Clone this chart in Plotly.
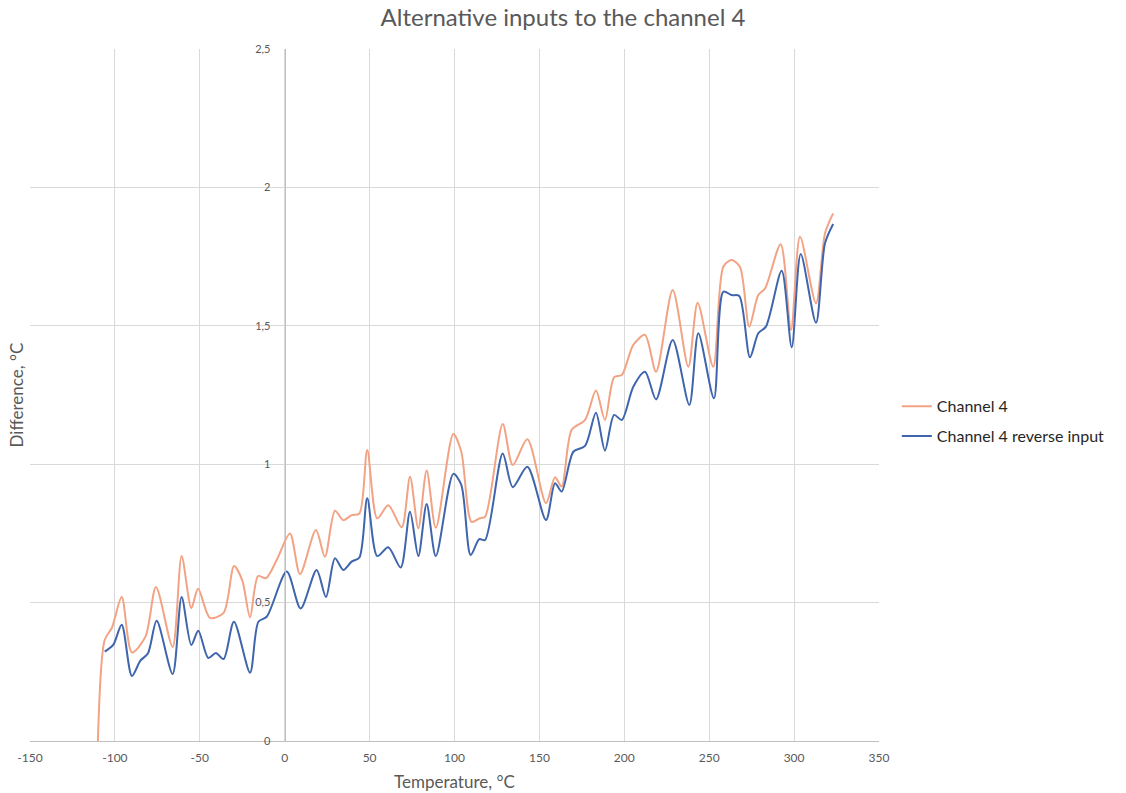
import plotly.graph_objects as go

# Channel 4 (orange)
ch4_x = [-110, -106, -101.7, -96, -90, -82, -75.8, -66, -60.7, -55, -51, -44, -36, -29.8, -25, -20.4,
         -15.7, -11, -4.7, 3.1, 9, 18.4, 23.7, 29.6, 34.5, 39.4, 44, 48.6, 54.5, 61, 68.9, 73.8, 78.7,
         83.6, 89, 99.3, 104, 110, 114.6, 118, 128.4, 134.3, 142.9, 153.9, 159.2, 163.1, 169, 176.9,
         183.3, 188.6, 194, 198.5, 205.3, 212.2, 218.7, 228.5, 237.7, 243.2, 252.4, 258.3, 263.2,
         268.1, 273.6, 278.9, 282.9, 292.1, 298.2, 303.5, 312.9, 318.2, 323]
ch4_y = [0.0, 0.365, 0.41, 0.52, 0.32, 0.377, 0.556, 0.34, 0.668, 0.48, 0.55, 0.445, 0.463, 0.632, 0.58,
         0.447, 0.596, 0.588, 0.654, 0.75, 0.603, 0.762, 0.666, 0.832, 0.798, 0.816, 0.822, 1.051, 0.804,
         0.852, 0.772, 0.955, 0.768, 0.977, 0.77, 1.109, 1.045, 0.792, 0.804, 0.81, 1.145, 0.997, 1.09,
         0.859, 0.953, 0.919, 1.124, 1.16, 1.266, 1.16, 1.314, 1.322, 1.431, 1.467, 1.334, 1.629, 1.352,
         1.583, 1.352, 1.713, 1.738, 1.713, 1.497, 1.611, 1.635, 1.795, 1.485, 1.822, 1.581, 1.834, 1.906]

# Channel 4 reverse input (blue)
rev_x = [-106, -101, -96, -90, -85, -80.5, -75.4, -66, -60.7, -55, -50.9, -45, -40.5, -36, -29.9, -20.4,
         -15.5, -10.6, 1.2, 9.4, 18.8, 24.3, 29.6, 34.5, 39.4, 44, 48.6, 54.5, 61, 68.3, 73.8, 78.7,
         83.6, 89, 99.3, 104, 109.5, 114.6, 118, 128.4, 134.3, 142.9, 153.9, 159.2, 163.1, 170, 176.9,
         183.3, 188.6, 194, 198.5, 205.3, 212.2, 218.7, 228.5, 238.3, 243.6, 252.8, 258.3, 263.2,
         267.7, 274, 278.9, 283.4, 292.7, 298.6, 303.9, 312.9, 318.2, 323]
rev_y = [0.323, 0.347, 0.42, 0.235, 0.29, 0.317, 0.434, 0.242, 0.52, 0.347, 0.398, 0.30, 0.318, 0.296,
         0.431, 0.247, 0.431, 0.449, 0.612, 0.479, 0.618, 0.52, 0.66, 0.618, 0.648, 0.663, 0.877, 0.668,
         0.70, 0.627, 0.828, 0.668, 0.856, 0.668, 0.965, 0.925, 0.672, 0.729, 0.726, 1.039, 0.917, 0.991,
         0.798, 0.931, 0.901, 1.045, 1.066, 1.186, 1.049, 1.178, 1.16, 1.28, 1.334, 1.234, 1.449, 1.214,
         1.473, 1.238, 1.623, 1.611, 1.608, 1.386, 1.473, 1.497, 1.699, 1.422, 1.759, 1.511, 1.798, 1.868]

x_ticks = [-150, -100, -50, 0, 50, 100, 150, 200, 250, 300, 350]
x_tick_text = ["-150", "-100", "-50", "0", "50", "100", "150", "200", "250", "300", "350"]
y_ticks = [0, 0.5, 1, 1.5, 2, 2.5]
y_tick_text = ["0", "0,5", "1", "1,5", "2", "2,5"]

FONT = "Lato, 'Open Sans', sans-serif"
GRAY = "#595959"

fig = go.Figure()
fig.add_trace(go.Scatter(x=ch4_x, y=ch4_y, mode="lines", name="Channel 4", legendgroup="a",
                         line=dict(color="#F2A384", width=2, shape="spline", smoothing=0.8)))
fig.add_trace(go.Scatter(x=rev_x, y=rev_y, mode="lines", name="Channel 4 reverse input", legendgroup="b",
                         line=dict(color="#3F65AD", width=2, shape="spline", smoothing=0.8)))

fig.update_layout(
    width=1126, height=793,
    paper_bgcolor="white", plot_bgcolor="white",
    margin=dict(l=30, r=247, t=49, b=52),
    font=dict(family=FONT, color=GRAY),
    title=dict(text="Alternative inputs to the channel 4", x=0.5, xanchor="center",
               y=0.978, yanchor="middle", font=dict(size=24, color=GRAY, family=FONT)),
    showlegend=True,
    legend=dict(x=1.021, xanchor="left", y=0.462, yanchor="middle",
                font=dict(size=16, color="#262626", family=FONT),
                bgcolor="rgba(0,0,0,0)", tracegroupgap=6),
    xaxis=dict(range=[-150, 350], tickvals=x_ticks, ticktext=x_tick_text,
               showgrid=True, gridcolor="#D9D9D9", gridwidth=1,
               zeroline=False, showline=True, linecolor="#BFBFBF", linewidth=1,
               ticks="", tickfont=dict(size=12, color=GRAY), ticklabelstandoff=6,
               automargin=False),
    yaxis=dict(range=[0, 2.5], tickvals=y_ticks, ticktext=y_tick_text,
               showgrid=True, gridcolor="#D9D9D9", gridwidth=1,
               zeroline=False, showline=True, linecolor="#BFBFBF", linewidth=1,
               anchor="free", position=0.3, ticks="", ticklabelstandoff=12,
               tickfont=dict(size=11, color=GRAY), automargin=False),
)

fig.add_annotation(text="Temperature, °C", xref="paper", yref="paper", x=0.5, y=-0.059,
                   xanchor="center", yanchor="middle", showarrow=False,
                   font=dict(size=17, color=GRAY, family=FONT))
fig.add_annotation(text="Difference, °C", xref="paper", yref="paper", x=-0.016, y=0.5,
                   xanchor="center", yanchor="middle", textangle=-90, showarrow=False,
                   font=dict(size=17, color=GRAY, family=FONT))

fig.write_html("out.html")
